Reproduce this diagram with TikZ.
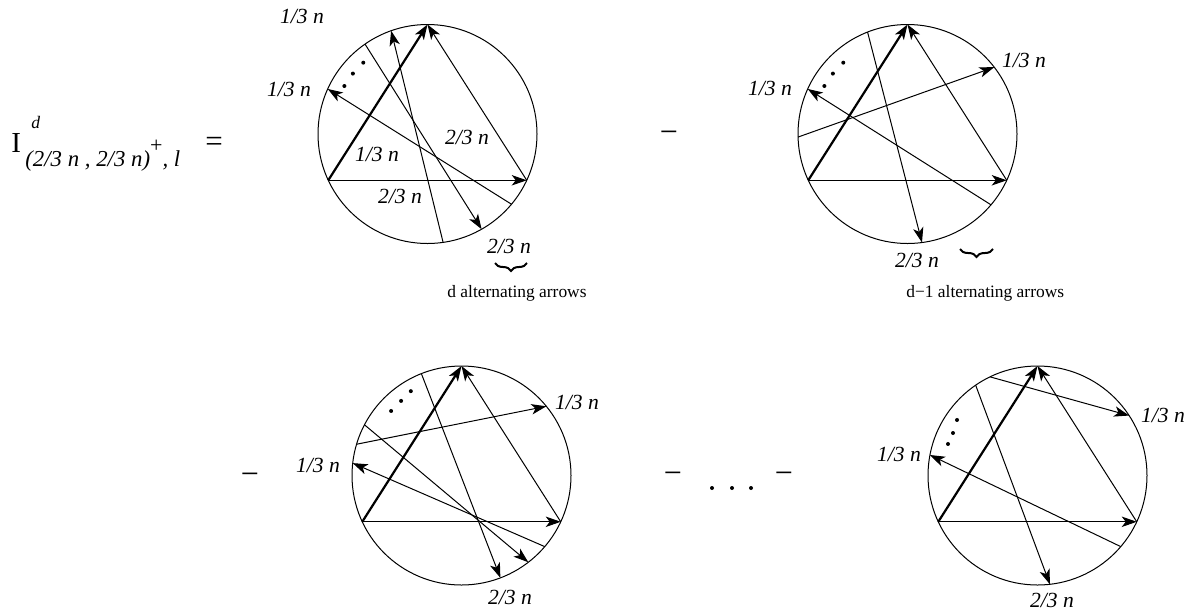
\documentclass[tikz,border=0pt]{standalone}
\usepackage{fontspec}
\setmainfont{Liberation Serif}
\usetikzlibrary{arrows.meta,calc,decorations.pathreplacing}
\tikzset{
  arr/.style={-{Stealth[length=7.5pt,width=5.2pt,inset=2pt]},line width=0.5pt},
  thk/.style={arr,line width=1.1pt},
  rim/.style={line width=0.5pt},
  lbl/.style={font=\fontsize{10.8}{12}\selectfont\itshape,inner sep=0pt},
  note/.style={font=\fontsize{8.7}{10}\selectfont,inner sep=0pt,anchor=base west},
  op/.style={font=\fontsize{16}{18}\selectfont,inner sep=0pt},
  brc/.style={decorate,decoration={brace,mirror,amplitude=4pt},line width=1pt}
}
\begin{document}
\begin{tikzpicture}[x=0.5pt,y=0.5pt]
\useasboundingbox (0,0) rectangle (1204,-612);
% left hand side
\node[inner sep=0pt,anchor=base west,font=\fontsize{14.5}{17}\selectfont] (lhsI) at (11,-152) {I};
\node[inner sep=0pt,anchor=base west,font=\fontsize{8.8}{10}\selectfont\itshape] (lhsd) at (31,-128) {d};
\node[inner sep=0pt,anchor=base west,font=\fontsize{11.4}{13}\selectfont\itshape] (lhssub) at (25,-166)
  {(2/3 n , 2/3 n)\raisebox{7pt}{\upshape\fontsize{11}{12}\selectfont +}, l};
\node[inner sep=0pt,font=\fontsize{15.5}{17}\selectfont] (lhseq) at (214,-144) {=};
% first circle
\begin{scope}[shift={(427.5,-134)}]
\coordinate (Ac) at (0,0);
\draw[rim] (Ac) circle[radius=109.5];
\foreach \n/\a in {t/90,l/205,r/335,1/278.2,2/109.4,3/124.8,4/299.6,5/320.1,6/155.7}
  \coordinate (A\n) at (\a:109.5);
\foreach \a in {150,141,132} \fill (\a:96) circle[radius=2];
\end{scope}
\draw[thk] (Al) -- (At);
\draw[arr] (Ar) -- (At);
\draw[arr] (Al) -- (Ar);
\draw[arr] (A1) -- (A2);
\draw[arr] (A3) -- (A4);
\draw[arr] (A5) -- (A6);
\node[lbl] (Ala) at (302,-16) {1/3 n};
\node[lbl] (Alb) at (289,-89) {1/3 n};
\node[lbl] (Alc) at (467,-137) {2/3 n};
\node[lbl] (Ald) at (377,-154) {1/3 n};
\node[lbl] (Ale) at (400,-196) {2/3 n};
\node[lbl] (Alf) at (509,-246) {2/3 n};
\coordinate (Ab1) at (495,-263);
\coordinate (Ab2) at (527,-263);
\draw[brc] (Ab1) -- (Ab2);
\node[note] (Anote) at (447,-297) {d alternating arrows};
% minus
\node[op] (m1) at (669,-137) {−};
% second circle
\begin{scope}[shift={(907.5,-134)}]
\coordinate (Bc) at (0,0);
\draw[rim] (Bc) circle[radius=109.5];
\foreach \n/\a in {t/90,l/205,r/335,1/111.4,2/277.6,3/319.7,4/155.7,5/181.6,6/37.6}
  \coordinate (B\n) at (\a:109.5);
\foreach \a in {150,141,132} \fill (\a:96) circle[radius=2];
\end{scope}
\draw[thk] (Bl) -- (Bt);
\draw[arr] (Br) -- (Bt);
\draw[arr] (Bl) -- (Br);
\draw[arr] (B1) -- (B2);
\draw[arr] (B3) -- (B4);
\draw[arr] (B5) -- (B6);
\node[lbl] (Bla) at (770,-88) {1/3 n};
\node[lbl] (Blb) at (1024,-60) {1/3 n};
\node[lbl] (Blc) at (917,-260) {2/3 n};
\coordinate (Bb1) at (960,-249);
\coordinate (Bb2) at (993,-249);
\draw[brc] (Bb1) -- (Bb2);
\node[note] (Bnote) at (906,-297) {d−1 alternating arrows};
% second row
\node[op] (m2) at (250,-479) {−};
\begin{scope}[shift={(461.5,-475.5)}]
\coordinate (Cc) at (0,0);
\draw[rim] (Cc) circle[radius=109.5];
\foreach \n/\a in {t/90,l/205,r/335,1/111.5,2/290.8,3/152.4,4/307.6,5/319.5,6/173.5,7/163.4,8/39.2}
  \coordinate (C\n) at (\a:109.5);
\foreach \a/\r in {137.5/95.5,129/96,121/98.4} \fill (\a:\r) circle[radius=2];
\end{scope}
\draw[thk] (Cl) -- (Ct);
\draw[arr] (Cr) -- (Ct);
\draw[arr] (Cl) -- (Cr);
\draw[arr] (C1) -- (C2);
\draw[arr] (C3) -- (C4);
\draw[arr] (C5) -- (C6);
\draw[arr] (C7) -- (C8);
\node[lbl] (Cla) at (318,-465) {1/3 n};
\node[lbl] (Clb) at (577,-402) {1/3 n};
\node[lbl] (Clc) at (510,-597) {2/3 n};
\node[op] (m3) at (673,-478) {−};
\foreach \x in {712,732,751} \fill (\x,-488) circle[radius=2];
\node[op] (m4) at (784,-478) {−};
\begin{scope}[shift={(1037.5,-475.5)}]
\coordinate (Dc) at (0,0);
\draw[rim] (Dc) circle[radius=109.5];
\foreach \n/\a in {t/90,l/205,r/335,1/124.4,2/276.5,3/319.5,4/169.2,5/115.7,6/33.2}
  \coordinate (D\n) at (\a:109.5);
\foreach \a/\r in {145.4/97.8,153.3/94.6,160.6/94.9} \fill (\a:\r) circle[radius=2];
\end{scope}
\draw[thk] (Dl) -- (Dt);
\draw[arr] (Dr) -- (Dt);
\draw[arr] (Dl) -- (Dr);
\draw[arr] (D1) -- (D2);
\draw[arr] (D3) -- (D4);
\draw[arr] (D5) -- (D6);
\node[lbl] (Dla) at (899,-454) {1/3 n};
\node[lbl] (Dlb) at (1163,-415) {1/3 n};
\node[lbl] (Dlc) at (1052,-600) {2/3 n};
\end{tikzpicture}
\end{document}
